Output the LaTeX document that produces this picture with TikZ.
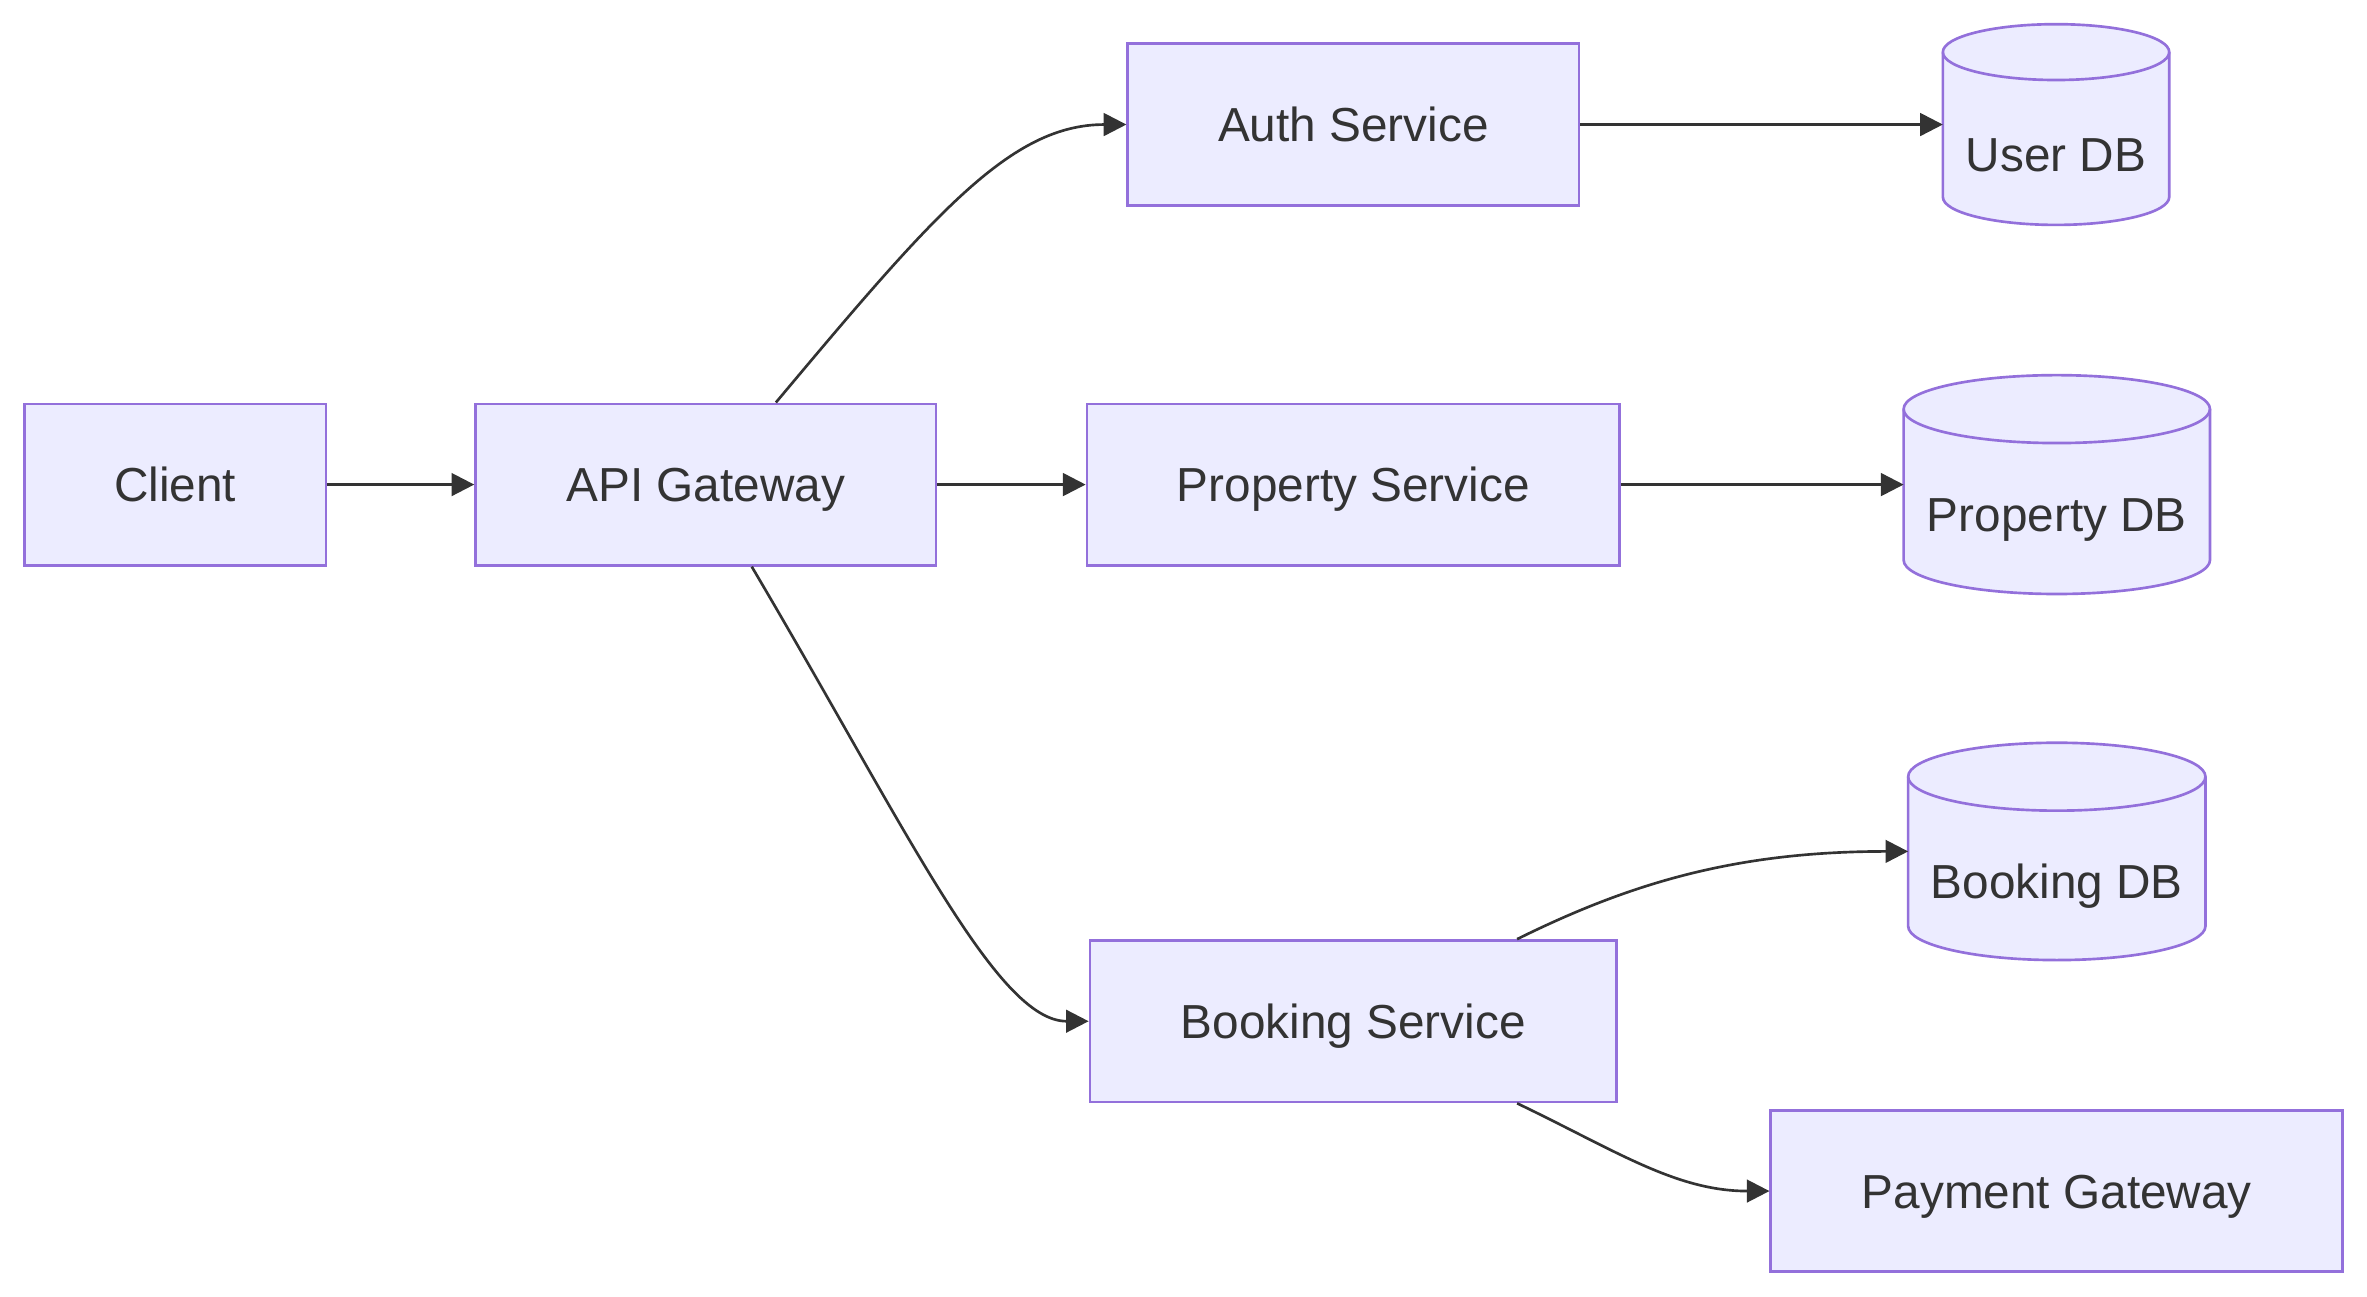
\documentclass[tikz,border=0pt]{standalone}
\usepackage{fontspec}
\setmainfont{Liberation Sans}
\usetikzlibrary{arrows.meta,backgrounds}

\definecolor{mmfill}{HTML}{ECECFF}
\definecolor{mmstroke}{HTML}{9370DB}
\definecolor{mmtext}{HTML}{333333}

\tikzset{
  svc/.style={draw=mmstroke,fill=mmfill,line width=1pt,minimum height=2.14cm,
    text=mmtext,font=\fontsize{18}{22}\selectfont,text height=0.46cm,text depth=0pt},
  db/.style 2 args={minimum width=#1,minimum height=#2,outer sep=0pt,
    text=mmtext,font=\fontsize{18}{22}\selectfont,text height=1.24cm,text depth=0pt},
  dbline/.style={draw=mmstroke,fill=mmfill,line width=1pt},
  flow/.style={draw=mmtext,line width=1pt,-{Triangle[length=0.3cm,width=0.3cm]}}
}

% cylinder round a db node: name, x radius, y radius
\newcommand\dbdraw[3]{%
  \draw[dbline] ([yshift=-#3]#1.north west) -- ([yshift=#3]#1.south west)
    arc[start angle=180,end angle=360,x radius=#2,y radius=#3]
    -- ([yshift=-#3]#1.north east)
    arc[start angle=0,end angle=180,x radius=#2,y radius=#3] -- cycle;
  \draw[dbline,fill=none] ([yshift=-#3]#1.north west)
    arc[start angle=180,end angle=360,x radius=#2,y radius=#3];
}

\begin{document}
\begin{tikzpicture}[x=0.02cm,y=0.02cm]
\useasboundingbox (0,0) rectangle (1568,-859);

\node[svc,minimum width=4cm] (client) at (116,-321) {Client};
\node[svc,minimum width=6.1cm] (api) at (467.5,-321) {API Gateway};
\node[svc,minimum width=5.98cm] (auth) at (896.5,-82.5) {Auth Service};
\node[svc,minimum width=7.06cm] (prop) at (896.5,-321) {Property Service};
\node[svc,minimum width=6.98cm] (book) at (896.5,-676.5) {Booking Service};
\node[svc,minimum width=7.58cm] (pay) at (1362.5,-789) {Payment Gateway};

\node[db={3cm}{2.66cm}] (udb) at (1362,-82.5) {User DB};
\node[db={4.06cm}{2.9cm}] (pdb) at (1362.5,-321) {Property DB};
\node[db={3.94cm}{2.88cm}] (bdb) at (1362.5,-564) {Booking DB};

\begin{scope}[on background layer]
  \dbdraw{udb}{1.5cm}{0.37cm}
  \dbdraw{pdb}{2.03cm}{0.45cm}
  \dbdraw{bdb}{1.97cm}{0.45cm}
\end{scope}

\draw[flow] (client) -- (api);
\draw[flow] (api) -- (prop);
\draw[flow] (auth) -- (udb);
\draw[flow] (prop) -- (pdb);
\draw[flow] ([xshift=0.93cm]api.north) .. controls (620,-140) and (670,-82.5) .. (auth.west);
\draw[flow] ([xshift=0.61cm]api.south) .. controls (600,-548) and (660,-676.5) .. (book.west);
\draw[flow] ([xshift=2.17cm]book.north) .. controls (1080,-585) and (1150,-564) .. (bdb.west);
\draw[flow] ([xshift=2.17cm]book.south) .. controls (1070,-762) and (1110,-789) .. (pay.west);
\end{tikzpicture}
\end{document}
